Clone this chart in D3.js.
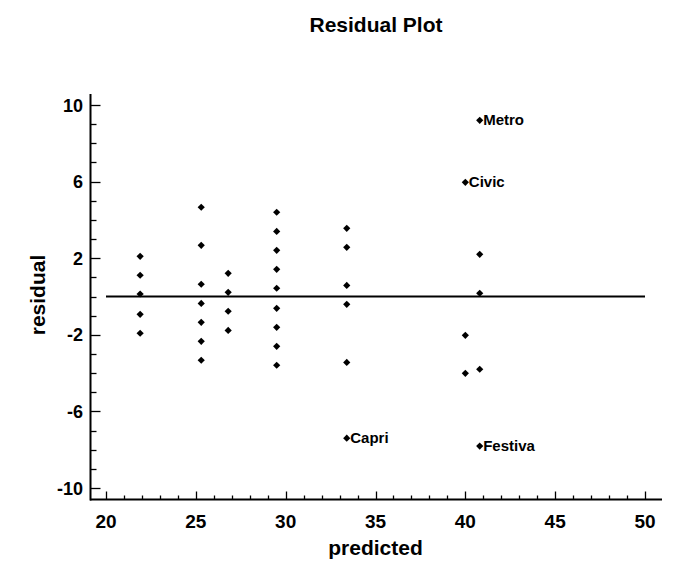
<!DOCTYPE html>
<html>
<head>
<meta charset="utf-8">
<script src="https://cdn.jsdelivr.net/npm/d3@7"></script>
<style>
  html, body { margin: 0; padding: 0; background: #fff; }
  text { font-family: Arial, "Liberation Sans", sans-serif; font-weight: bold; fill: #000; }
</style>
</head>
<body>
<div id="chart"></div>
<script>
// Data
const predicted = [
  21.9, 21.9, 21.9, 21.9, 21.9,
  25.3, 25.3, 25.3, 25.3, 25.3, 25.3, 25.3,
  26.8, 26.8, 26.8, 26.8,
  29.5, 29.5, 29.5, 29.5, 29.5, 29.5, 29.5, 29.5, 29.5,
  33.4, 33.4, 33.4, 33.4, 33.4, 33.4,
  40.0, 40.0, 40.0,
  40.8, 40.8, 40.8, 40.8, 40.8
];
const residual = [
  2.10, 1.11, 0.13, -0.93, -1.92,
  4.66, 2.67, 0.64, -0.36, -1.35, -2.34, -3.33,
  1.21, 0.22, -0.77, -1.77,
  4.40, 3.40, 2.41, 1.42, 0.43, -0.62, -1.61, -2.60, -3.59,
  3.56, 2.57, 0.58, -0.41, -3.44, -7.40,
  5.96, -2.03, -4.01,
  9.20, 2.20, 0.17, -3.80, -7.81
];
const pointLabels = [
  "", "", "", "", "",
  "", "", "", "", "", "", "",
  "", "", "", "",
  "", "", "", "", "", "", "", "", "",
  "", "", "", "", "", "Capri",
  "Civic", "", "",
  "Metro", "", "", "", "Festiva"
];
const xTicks = [20, 25, 30, 35, 40, 45, 50];
const yTicks = [-10, -6, -2, 2, 6, 10];
const title = "Residual Plot";
const xTitle = "predicted";
const yTitle = "residual";

const W = 692, H = 572;
const svg = d3.select("#chart").append("svg").attr("width", W).attr("height", H);

const x = d3.scaleLinear().domain([20, 50]).range([106, 645]);
const y = d3.scaleLinear().domain([-10, 10]).range([488, 105]);

const axisLeftX = 90.5, axisBottomY = 499.5;
const yTopPx = 94, xRightPx = 662;

// Axes lines
svg.append("line").attr("x1", axisLeftX).attr("x2", axisLeftX)
  .attr("y1", yTopPx).attr("y2", axisBottomY + 1)
  .attr("stroke", "#000").attr("stroke-width", 2);
svg.append("line").attr("x1", axisLeftX - 0.5).attr("x2", xRightPx)
  .attr("y1", axisBottomY).attr("y2", axisBottomY)
  .attr("stroke", "#000").attr("stroke-width", 2);

// Y ticks (inside, pointing right)
const yMinor = d3.range(-10, 11, 1);
svg.append("g").selectAll("line").data(yMinor).join("line")
  .attr("x1", axisLeftX).attr("x2", d => axisLeftX + (d % 4 === 2 || d % 4 === -2 ? 10 : 6))
  .attr("y1", d => Math.round(y(d)) + 0.5).attr("y2", d => Math.round(y(d)) + 0.5)
  .attr("stroke", "#000").attr("stroke-width", 1.3);
svg.append("g").selectAll("text").data(yTicks).join("text")
  .attr("x", 83).attr("y", d => y(d) + 6.5)
  .attr("text-anchor", "end").attr("font-size", 18)
  .text(d => d);

// X ticks (inside, pointing up)
const xMinor = d3.range(20, 51, 1).filter(d => d >= 20 && d <= 50);
svg.append("g").selectAll("line").data(xMinor).join("line")
  .attr("x1", d => Math.round(x(d)) + 0.5).attr("x2", d => Math.round(x(d)) + 0.5)
  .attr("y1", axisBottomY).attr("y2", d => axisBottomY - (d % 5 === 0 ? 8 : 4))
  .attr("stroke", "#000").attr("stroke-width", 1.3);
svg.append("g").selectAll("text").data(xTicks).join("text")
  .attr("x", d => x(d)).attr("y", 528)
  .attr("text-anchor", "middle").attr("font-size", 19)
  .text(d => d);

// Zero line
svg.append("line").attr("x1", x(20)).attr("x2", x(50))
  .attr("y1", y(0)).attr("y2", y(0))
  .attr("stroke", "#000").attr("stroke-width", 2);

// Points
const pts = predicted.map((p, i) => ({ p, r: residual[i], label: pointLabels[i] }));
const sym = d3.symbol().type(d3.symbolSquare).size(26);
svg.append("g").selectAll("path").data(pts).join("path")
  .attr("d", sym)
  .attr("transform", d => `translate(${x(d.p)},${y(d.r)}) rotate(45)`)
  .attr("fill", "#000");

svg.append("g").selectAll("text").data(pts.filter(d => d.label)).join("text")
  .attr("x", d => x(d.p) + 3.5).attr("y", d => y(d.r) + 5)
  .attr("font-size", 15)
  .text(d => d.label);

// Titles
svg.append("text").attr("x", 376).attr("y", 32).attr("text-anchor", "middle")
  .attr("font-size", 21).text(title);
svg.append("text").attr("x", 375.5).attr("y", 555).attr("text-anchor", "middle")
  .attr("font-size", 21).text(xTitle);
svg.append("text").attr("transform", "translate(45,295) rotate(-90)")
  .attr("text-anchor", "middle").attr("font-size", 21).text(yTitle);
</script>
</body>
</html>
